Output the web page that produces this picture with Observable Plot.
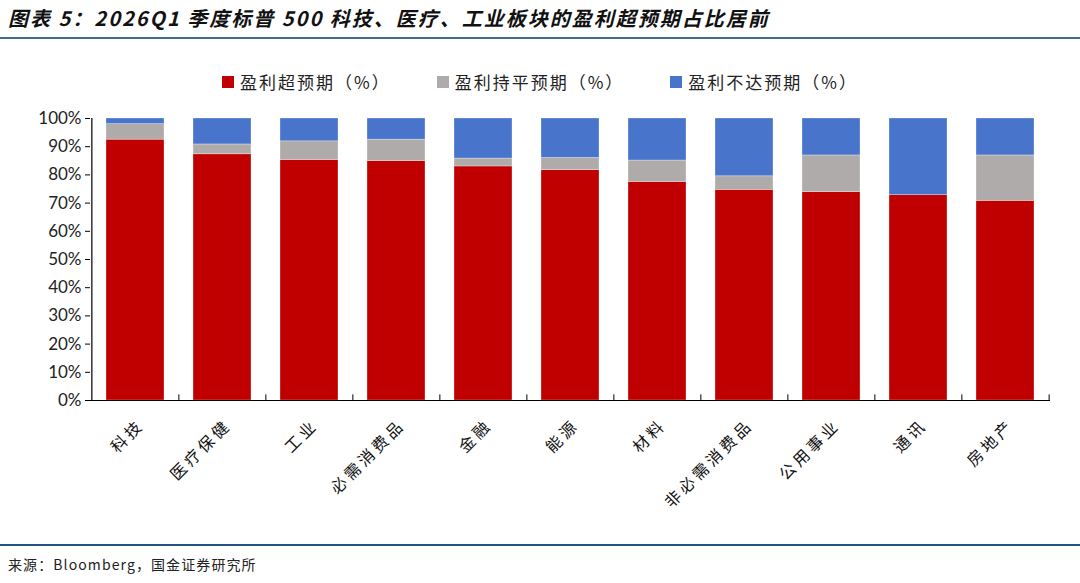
<!DOCTYPE html>
<html>
<head>
<meta charset="utf-8">
<script src="https://cdn.jsdelivr.net/npm/d3@7"></script>
<script src="https://cdn.jsdelivr.net/npm/@observablehq/plot@0.6"></script>
<style>
  html, body { margin: 0; padding: 0; background: #fff; }
  #wrap { position: relative; width: 1080px; height: 583px; overflow: hidden; font-family: "Noto Sans CJK SC", "Noto Sans", sans-serif; }
  #title { position: absolute; left: 8px; top: 3px; font-size: 20px; font-weight: bold; font-style: italic; color: #111; letter-spacing: 2px; white-space: nowrap; }
  #topline { position: absolute; left: 0; top: 37px; width: 1080px; height: 2px; background: #3C6F93; }
  #legend { position: absolute; top: 69px; left: 0; width: 1080px; display: flex; justify-content: center; gap: 46px; font-size: 17px; color: #222; letter-spacing: 2px; }
  #legend span.item { display: flex; align-items: center; }
  #legend span.sw { display: inline-block; width: 12px; height: 12px; margin-right: 6px; }
  #chart { position: absolute; left: 0; top: 100px; }
  #botline { position: absolute; left: 0; top: 544px; width: 1080px; height: 2px; background: #22527E; }
  #source { position: absolute; left: 8px; top: 554px; font-size: 14px; color: #222; letter-spacing: 1.1px; white-space: nowrap; }
</style>
</head>
<body>
<div id="wrap">
  <div id="title">图表 5：2026Q1 季度标普 500 科技、医疗、工业板块的盈利超预期占比居前</div>
  <div id="topline"></div>
  <div id="legend"></div>
  <div id="chart"></div>
  <div id="botline"></div>
  <div id="source">来源：Bloomberg，国金证券研究所</div>
</div>
<script>
const sectors = ["科技","医疗保健","工业","必需消费品","金融","能源","材料","非必需消费品","公用事业","通讯","房地产"];
const seriesNames = ["盈利超预期（%）","盈利持平预期（%）","盈利不达预期（%）"];
const seriesColors = ["#C00000","#AFABAB","#4874CB"];
const beat =  [92.5, 87.3, 85.3, 84.9, 83.0, 81.7, 77.5, 74.7, 73.9, 72.8, 70.8];
const inline = [5.5, 3.5, 6.6, 7.6, 2.8, 4.3, 7.6, 4.8, 13.0, 0.0, 16.1];
const miss =  [2.0, 9.2, 8.1, 7.5, 14.2, 14.0, 14.9, 20.5, 13.1, 27.2, 13.1];
const yTicks = [0,10,20,30,40,50,60,70,80,90,100];

const seriesVals = [beat, inline, miss];
const data = [];
sectors.forEach((s, i) => {
  seriesNames.forEach((n, j) => data.push({sector: s, series: n, value: seriesVals[j][i]}));
});

// legend
const lg = document.getElementById("legend");
seriesNames.forEach((n, j) => {
  const it = document.createElement("span"); it.className = "item";
  const sw = document.createElement("span"); sw.className = "sw"; sw.style.background = seriesColors[j];
  it.appendChild(sw); it.appendChild(document.createTextNode(n));
  lg.appendChild(it);
});

const W = 1080, ML = 90, MR = 30;
const step = (W - ML - MR) / sectors.length;

const plot = Plot.plot({
  width: W,
  height: 420,
  marginLeft: ML,
  marginRight: MR,
  marginTop: 18,
  marginBottom: 120,
  style: {fontFamily: "'Noto Sans CJK SC', sans-serif", color: "#000", background: "transparent"},
  x: {domain: sectors, paddingInner: 0.33, paddingOuter: 0.165, label: null},
  y: {domain: [0, 100], label: null},
  color: {domain: seriesNames, range: seriesColors},
  marks: [
    Plot.barY(data, {x: "sector", y: "value", fill: "series", order: seriesNames, stroke: "#fff", strokeOpacity: 0.5, strokeWidth: 0.6}),
    Plot.axisY(yTicks, {tickSize: 5, tickPadding: 4, tickFormat: d => d + "%", fontSize: 17, fontFamily: "Lato, 'Noto Sans', sans-serif", stroke: "#000", fill: "#222"}),
    Plot.axisX({tickSize: 0, tickRotate: -45, tickPadding: 22, dx: 6, fontSize: 16, fill: "#111"}),
    Plot.ruleY([0], {stroke: "#000", strokeWidth: 1.2}),
    Plot.ruleX([sectors[0]], {dx: -step / 2, y1: 0, y2: 100, stroke: "#000", strokeWidth: 1.2}),
    Plot.ruleX(sectors.slice(1), {dx: -step / 2, y1: 0, y2: 2, stroke: "#000"}),
    Plot.ruleX([sectors[sectors.length - 1]], {dx: step / 2, y1: 0, y2: 2, stroke: "#000"})
  ]
});
d3.select(plot).selectAll('g[aria-label="x-axis tick label"] text').attr("letter-spacing", 3.5);
document.getElementById("chart").appendChild(plot);
</script>
</body>
</html>
